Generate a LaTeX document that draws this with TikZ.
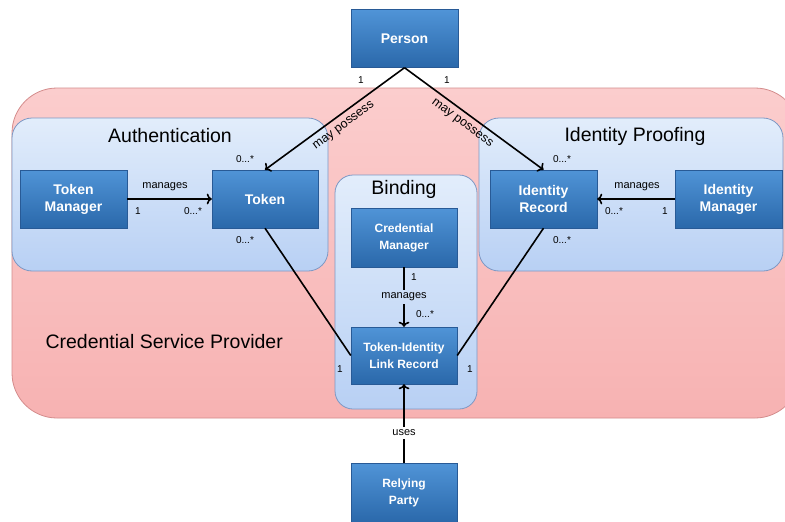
\documentclass[tikz,border=0pt]{standalone}
\usepackage{fontspec}
\setmainfont{Liberation Sans}
\usetikzlibrary{arrows.meta}

\definecolor{boxtop}{RGB}{80,148,215}
\definecolor{boxbot}{RGB}{42,104,170}
\definecolor{boxedge}{RGB}{40,90,150}
\definecolor{csptop}{RGB}{251,205,205}
\definecolor{cspbot}{RGB}{247,178,178}
\definecolor{cspedge}{RGB}{212,140,140}
\definecolor{grptop}{RGB}{226,237,251}
\definecolor{grpbot}{RGB}{184,208,244}
\definecolor{grpedge}{RGB}{125,152,196}

\tikzset{
  classbox/.style={draw=boxedge,top color=boxtop,bottom color=boxbot,text=white,
    minimum width=106pt,minimum height=58pt,inner sep=0pt,align=center,
    font=\fontsize{14}{17}\selectfont\bfseries},
  grpbox/.style={draw=grpedge,line width=0.8pt,top color=grptop,bottom color=grpbot,
    rounded corners=20pt},
  grptitle/.style={font=\fontsize{19.5}{23}\selectfont},
  mult/.style={font=\fontsize{10}{12}\selectfont,inner sep=1pt},
  assoc/.style={font=\fontsize{11}{13}\selectfont,inner sep=3pt},
  link/.style={line width=1.6pt,black}
}

\begin{document}
\begin{tikzpicture}[x=1pt,y=-1pt]
  \clip (0,0) rectangle (785,522);
  \fill[white] (0,0) rectangle (785,522);

  % credential service provider
  \draw[draw=cspedge,line width=0.8pt,top color=csptop,bottom color=cspbot,rounded corners=45pt]
    (12,88) rectangle (800,418);
  \node[grptitle,anchor=west] (csp) at (42,342) {Credential Service Provider};

  % groups
  \draw[grpbox] (12,118) rectangle (328,271);
  \draw[grpbox] (479,118) rectangle (783,271);
  \draw[grpbox,rounded corners=18pt] (335,175) rectangle (477,409);
  \node[grptitle] (authtitle) at (170,136) {Authentication};
  \node[grptitle] (idptitle) at (635,136) {Identity Proofing};
  \node[grptitle] (bindtitle) at (404,189) {Binding};

  % classes
  \node[classbox,minimum width=107pt] (person) at (404.5,38.5) {Person};
  \node[classbox,minimum width=107pt] (tokman) at (73.5,199) {Token\\Manager};
  \node[classbox] (token) at (265,199) {Token};
  \node[classbox,minimum width=107pt] (idrec) at (543.5,199) {Identity\\Record};
  \node[classbox,minimum width=107pt] (idman) at (728.5,199) {Identity\\Manager};
  \node[classbox,minimum height=59pt] (credman) at (404,237.5) {\fontsize{12}{15}\selectfont\bfseries Credential\\\fontsize{12}{15}\selectfont\bfseries Manager};
  \node[classbox,minimum height=57pt] (tilr) at (404,355.5) {\fontsize{12}{15}\selectfont\bfseries Token-Identity\\\fontsize{12}{15}\selectfont\bfseries Link Record};
  \node[classbox,minimum height=60pt] (relying) at (404,493) {\fontsize{12}{15}\selectfont\bfseries Relying\\\fontsize{12}{15}\selectfont\bfseries Party};

  % person possesses
  \draw[link,->] (person.south) -- (token.north);
  \draw[link,->] (person.south) -- (idrec.north);
  \node[mult] (pl1) at (361,80) {1};
  \node[mult] (pr1) at (447,80) {1};
  \node[font=\fontsize{12.5}{14}\selectfont,rotate=36.5] (posl) at (344,126) {may possess};
  \node[font=\fontsize{12.5}{14}\selectfont,rotate=-36.5] (posr) at (462,123.5) {may possess};
  \node[mult] (tok0) at (245,159) {0...*};
  \node[mult] (idr0) at (562,159) {0...*};

  % managers
  \draw[link,->] (tokman.east) -- (token.west);
  \node[assoc] (tmlab) at (165,187) {manages};
  \node[mult] (tm1) at (138,211) {1};
  \node[mult] (tm0) at (193,211) {0...*};

  \draw[link,->] (idman.west) -- (idrec.east);
  \node[assoc] (imlab) at (637,187) {manages};
  \node[mult] (im0) at (614,211) {0...*};
  \node[mult] (im1) at (665,211) {1};

  % binding
  \node[assoc] (cmlab) at (404,297) {manages};
  \draw[link] (credman.south) -- (cmlab.north);
  \draw[link,->] (cmlab.south) -- (tilr.north);
  \node[mult] (cm1) at (414,277) {1};
  \node[mult] (cm0) at (425,314) {0...*};

  \draw[link] (token.south) -- (tilr.west);
  \draw[link] (idrec.south) -- (tilr.east);
  \node[mult] (tok0b) at (245,240) {0...*};
  \node[mult] (idr0b) at (562,240) {0...*};
  \node[mult] (tl1) at (340,369) {1};
  \node[mult] (tr1) at (470,369) {1};

  % relying party
  \node[assoc] (useslab) at (404,433) {uses};
  \draw[link] (relying.north) -- (useslab.south);
  \draw[link,->] (useslab.north) -- (tilr.south);
\end{tikzpicture}
\end{document}
